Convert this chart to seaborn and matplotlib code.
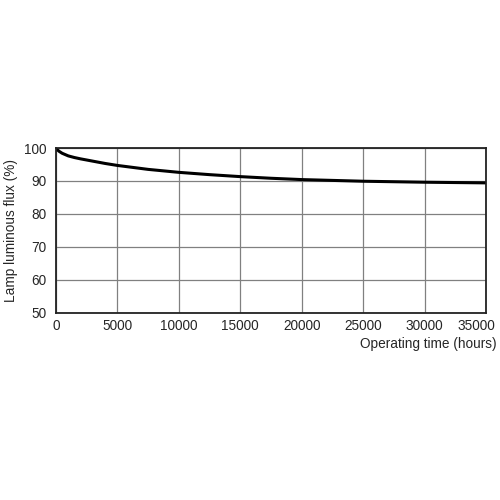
import pandas as pd
import matplotlib
matplotlib.use("Agg")
import matplotlib.pyplot as plt
import matplotlib.transforms as mtransforms
import seaborn as sns

# Curve
hours = [0, 100, 250, 500, 1000, 1500, 2000, 3000, 4000, 5000, 7500,
         10000, 12500, 15000, 17500, 20000, 25000, 30000, 35000]
flux = [100, 99.5, 99.0, 98.4, 97.6, 97.1, 96.7, 96.0, 95.3, 94.7, 93.5,
        92.6, 91.9, 91.3, 90.8, 90.4, 89.9, 89.6, 89.4]
x_ticks = [0, 5000, 10000, 15000, 20000, 25000, 30000, 35000]
y_ticks = [50, 60, 70, 80, 90, 100]

df = pd.DataFrame({"hours": hours, "flux": flux})

sns.set_style("white")
plt.rcParams['font.family'] = ['Liberation Sans', 'DejaVu Sans']

fig = plt.figure(figsize=(5, 5), dpi=100)
ax = fig.add_axes([0.112, 0.375, 0.86, 0.329])

sns.lineplot(data=df, x="hours", y="flux", ax=ax, color="black", linewidth=2.2)

ax.set_xlim(0, 35000)
ax.set_ylim(50, 100)
ax.set_xticks(x_ticks)
ax.set_yticks(y_ticks)
ax.grid(True, color="#808080", linewidth=0.9)
ax.tick_params(axis="both", length=0, labelsize=9.8)
ax.tick_params(axis="x", pad=5)
ax.tick_params(axis="y", pad=7)
for s in ax.spines.values():
    s.set_color("#222222")
    s.set_linewidth(1.3)

# last x label is pulled left so it ends inside the picture, as in the reference
last = ax.get_xticklabels()[-1]
last.set_transform(last.get_transform() +
                   mtransforms.ScaledTranslation(-10 / 100, 0, fig.dpi_scale_trans))

ax.set_xlabel("")
ax.set_ylabel("Lamp luminous flux (%)", fontsize=9.8, labelpad=4)
fig.text(0.994, 0.312, "Operating time (hours)", ha="right", va="center", fontsize=9.8)

fig.savefig("out.png", dpi=100)
